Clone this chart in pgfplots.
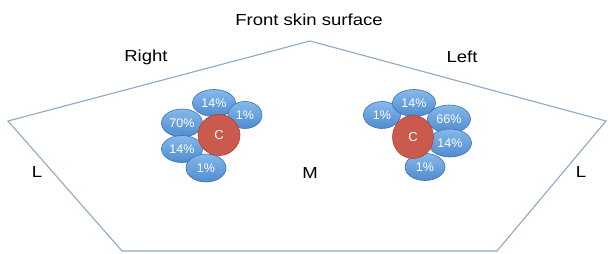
\documentclass[border=0pt]{standalone}
\usepackage{pgfplots}
\pgfplotsset{compat=1.18}
\usepackage{pgfplotstable}
\usepackage{fontspec}
\setmainfont{Liberation Sans}
\usetikzlibrary{shapes.geometric}
\definecolor{edgec}{HTML}{8FA8C4}
\definecolor{bluetop}{HTML}{86B8EA}
\definecolor{bluebot}{HTML}{4F8CD0}
\definecolor{blueedge}{HTML}{3C72B5}
\definecolor{redf}{HTML}{CB5A4E}
\definecolor{rededge}{HTML}{A9433A}

\pgfplotstableread{
x y w h lab
214 103 43 27 14\%
245 115 34 27 1\%
182 123 41 28 70\%
182 149 41 27 14\%
206 168 40 28 1\%
382 115 37 27 1\%
414 103 43 27 14\%
449 119 43 28 66\%
450 143 43 28 14\%
425 167 40 27 1\%
}\sats

\pgfplotstableread{
x y w h lab
219 135 42 41 C
413 137 41 43 C
}\cores

\begin{document}
\begin{tikzpicture}
\begin{axis}[
  x=1pt, y=1pt,
  xmin=0, xmax=608, ymin=0, ymax=254,
  y dir=reverse,
  hide axis, clip=false,
  axis line style={draw=none},
]
\addplot [draw=none, mark=none] coordinates {(0,0) (608,254)};
\addplot [edgec, line width=1.1pt, line join=miter, mark=none]
  coordinates {(310,41) (606,121) (497,251) (122,251) (8,121) (310,41)};

\addplot [only marks, mark=none,
  visualization depends on={\thisrow{w}\as\ew},
  visualization depends on={\thisrow{h}\as\eh},
  nodes near coords, point meta=explicit symbolic,
  every node near coord/.style={ellipse, anchor=center, inner sep=0pt,
    draw=blueedge, line width=0.6pt, top color=bluetop, bottom color=bluebot,
    minimum width=\ew pt, minimum height=\eh pt, text=white,
    font=\fontsize{12.5}{12.5}\selectfont}]
  table [x=x, y=y, meta=lab] {\sats};

\addplot [only marks, mark=none,
  visualization depends on={\thisrow{w}\as\ew},
  visualization depends on={\thisrow{h}\as\eh},
  nodes near coords, point meta=explicit symbolic,
  every node near coord/.style={ellipse, anchor=center, inner sep=0pt,
    draw=rededge, line width=0.6pt, fill=redf,
    minimum width=\ew pt, minimum height=\eh pt, text=white,
    font=\fontsize{13}{13}\selectfont}]
  table [x=x, y=y, meta=lab] {\cores};

\node[font=\fontsize{16}{16}\selectfont, xscale=1.16] at (axis cs:309,20) {Front skin surface};
\node[font=\fontsize{16}{16}\selectfont, xscale=1.16] at (axis cs:146,57) {Right};
\node[font=\fontsize{16}{16}\selectfont, xscale=1.16] at (axis cs:462,57) {Left};
\node[font=\fontsize{16}{16}\selectfont, xscale=1.16] at (axis cs:37,172) {L};
\node[font=\fontsize{16}{16}\selectfont, xscale=1.16] at (axis cs:310,173) {M};
\node[font=\fontsize{16}{16}\selectfont, xscale=1.16] at (axis cs:581,172) {L};
\end{axis}
\end{tikzpicture}
\end{document}
